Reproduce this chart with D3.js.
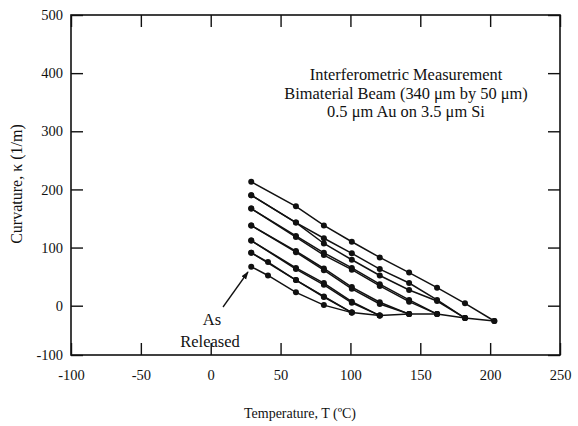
<!DOCTYPE html>
<html>
<head>
<meta charset="utf-8">
<script src="https://cdn.jsdelivr.net/npm/d3@7"></script>
<style>
  body { margin: 0; background: #fff; }
  svg text { font-family: "Liberation Serif", "Times New Roman", serif; fill: #111; }
</style>
</head>
<body>
<div id="chart"></div>
<script>
// Temperature columns (as plotted) and curvature per thermal path
const temps = [29, 41, 61, 81, 101, 121, 142, 162, 182, 203];
const xTicks = [-100, -50, 0, 50, 100, 150, 200, 250];
const yTicks = [-100, 0, 100, 200, 300, 400, 500];

// heating and cooling paths, null = no reading at that column
const heat1 = [67, 52, 23, 1, -14, null, null, null, null, null];   // as released
const cool1 = [91, 75, 44, 16, -14, null, null, null, null, null];
const heat2 = [91, null, 44, 15, -14, -20, null, null, null, null];
const cool2 = [112, null, 65, 39, 7, -20, null, null, null, null];
const heat3 = [112, null, 63, 36, 5, -20, -17, null, null, null];
const cool3 = [138, null, 94, 64, 32, 6, -17, null, null, null];
const heat4 = [138, null, 92, 61, 29, 3, -17, -17, null, null];
const cool4 = [167, null, 120, 91, 65, 37, 10, -17, null, null];
const heat5 = [167, null, 118, 87, 62, 34, 7, -17, -25, null];
const cool5 = [190, null, 143, 116, 90, 63, 39, 10, -25, null];
const heat6 = [190, null, 143, 107, 79, 52, 27, 8, -25, -31];
const cool6 = [213, null, 171, 138, 110, 83, 57, 31, 4, -31];

const paths = [heat1, cool1, heat2, cool2, heat3, cool3, heat4, cool4, heat5, cool5, heat6, cool6];

const noteLines = [
    'Interferometric Measurement',
    'Bimaterial Beam (340 \u03bcm by 50 \u03bcm)',
    '0.5 \u03bcm Au on 3.5 \u03bcm Si'
];

const width = 578, height = 426;
const margin = { top: 15, right: 18, bottom: 71, left: 71 };
const innerWidth = width - margin.left - margin.right;
const innerHeight = height - margin.top - margin.bottom;

const svg = d3.select('#chart').append('svg')
    .attr('width', width)
    .attr('height', height);

const g = svg.append('g')
    .attr('transform', `translate(${margin.left},${margin.top})`);

const x = d3.scaleLinear().domain([-100, 250]).range([0, innerWidth]);
// the printed axis is compressed below zero
const y = d3.scaleLinear().domain([-100, 0, 500]).range([innerHeight, 290.7, 0]);

const fmt = d => String(d);

// Axes with inward ticks on all four sides
const styleAxis = sel => {
    sel.selectAll('.domain').remove();
    sel.selectAll('.tick line').attr('stroke', '#111').attr('stroke-width', 1.4);
    sel.selectAll('.tick text').attr('font-size', 14.5).attr('fill', '#111');
};

g.append('g')
    .attr('transform', `translate(0,${innerHeight})`)
    .call(d3.axisBottom(x).tickValues(xTicks).tickSizeInner(-12).tickSizeOuter(0).tickPadding(15).tickFormat(fmt))
    .call(styleAxis);

g.append('g')
    .call(d3.axisTop(x).tickValues(xTicks).tickSizeInner(-12).tickSizeOuter(0).tickFormat(''))
    .call(styleAxis);

g.append('g')
    .call(d3.axisLeft(y).tickValues(yTicks).tickSizeInner(-12).tickSizeOuter(0).tickPadding(8).tickFormat(fmt))
    .call(styleAxis);

g.append('g')
    .attr('transform', `translate(${innerWidth},0)`)
    .call(d3.axisRight(y).tickValues(yTicks).tickSizeInner(-12).tickSizeOuter(0).tickFormat(''))
    .call(styleAxis);

// Frame
g.append('rect')
    .attr('width', innerWidth)
    .attr('height', innerHeight)
    .attr('fill', 'none')
    .attr('stroke', '#111')
    .attr('stroke-width', 1.6);

// Axis titles
svg.append('text')
    .attr('x', 300)
    .attr('y', 418)
    .attr('text-anchor', 'middle')
    .attr('font-size', 14)
    .text('Temperature, T (\u00baC)');

svg.append('text')
    .attr('transform', 'translate(22,184) rotate(-90)')
    .attr('text-anchor', 'middle')
    .attr('font-size', 16)
    .text('Curvature,  \u03ba (1/m)');

// Data paths
const line = d3.line()
    .x(d => x(d[0]))
    .y(d => y(d[1]));

paths.forEach(vals => {
    const pts = temps.map((t, i) => [t, vals[i]]).filter(d => d[1] !== null);
    g.append('path')
        .datum(pts)
        .attr('d', line)
        .attr('fill', 'none')
        .attr('stroke', '#111')
        .attr('stroke-width', 1.5);
    g.selectAll(null)
        .data(pts)
        .join('circle')
        .attr('cx', d => x(d[0]))
        .attr('cy', d => y(d[1]))
        .attr('r', 3)
        .attr('fill', '#111');
});

// Annotation block
const note = svg.append('text')
    .attr('text-anchor', 'middle')
    .attr('font-size', 16.4);
noteLines.forEach((s, i) => {
    note.append('tspan')
        .attr('x', 406)
        .attr('y', 80 + i * 18.5)
        .text(s);
});

// "As Released" label with arrow
svg.append('defs').append('marker')
    .attr('id', 'arrow')
    .attr('viewBox', '0 0 10 10')
    .attr('refX', 9).attr('refY', 5)
    .attr('markerWidth', 8).attr('markerHeight', 8)
    .attr('markerUnits', 'userSpaceOnUse')
    .attr('orient', 'auto')
    .append('path')
    .attr('d', 'M0,1.5 L10,5 L0,8.5 Z')
    .attr('fill', '#111');

svg.append('line')
    .attr('x1', 223).attr('y1', 307)
    .attr('x2', 248).attr('y2', 272)
    .attr('stroke', '#111')
    .attr('stroke-width', 1.3)
    .attr('marker-end', 'url(#arrow)');

svg.append('text')
    .attr('x', 212)
    .attr('y', 325)
    .attr('text-anchor', 'middle')
    .attr('font-size', 16.5)
    .text('As');

svg.append('text')
    .attr('x', 210)
    .attr('y', 347)
    .attr('text-anchor', 'middle')
    .attr('font-size', 16.5)
    .text('Released');
</script>
</body>
</html>
